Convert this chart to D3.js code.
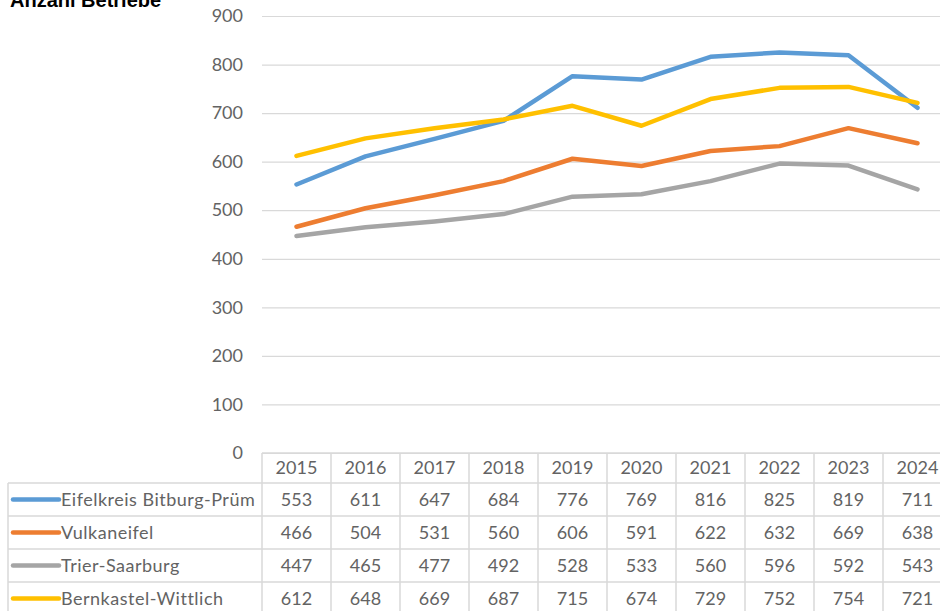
<!DOCTYPE html>
<html>
<head>
<meta charset="utf-8">
<script src="https://cdn.jsdelivr.net/npm/d3@7"></script>
<style>
  body { margin: 0; background: #fff; }
  svg { display: block; }
</style>
</head>
<body>
<script>
// data
var years = ["2015", "2016", "2017", "2018", "2019", "2020", "2021", "2022", "2023", "2024"];
var seriesNames = ["Eifelkreis Bitburg-Prüm", "Vulkaneifel", "Trier-Saarburg", "Bernkastel-Wittlich"];
var eifel = [553, 611, 647, 684, 776, 769, 816, 825, 819, 711];
var vulkan = [466, 504, 531, 560, 606, 591, 622, 632, 669, 638];
var trier = [447, 465, 477, 492, 528, 533, 560, 596, 592, 543];
var bernk = [612, 648, 669, 687, 715, 674, 729, 752, 754, 721];
var yTicks = [0, 100, 200, 300, 400, 500, 600, 700, 800, 900];
var colors = ["#5b9bd5", "#ed7d31", "#a5a5a5", "#ffc000"];

var series = [eifel, vulkan, trier, bernk].map(function(v, i) {
    return {name: seriesNames[i], values: v, color: colors[i]};
});

var W = 940, H = 611;
var plotLeft = 262, colW = 69;
var txtColor = "#636363";
var gridColor = "#d9d9d9";
var font = "Lato, 'Open Sans', sans-serif";

var svg = d3.select("body").append("svg")
    .attr("width", W)
    .attr("height", H);

var x = d3.scaleBand()
    .domain(years)
    .range([plotLeft, plotLeft + colW * years.length]);

var y = d3.scaleLinear()
    .domain([0, 900])
    .range([453, 16]);

// title (cut off at the top in the original)
svg.append("text")
    .attr("x", 10)
    .attr("y", 6.5)
    .attr("font-family", "'Liberation Sans', Arial, sans-serif")
    .attr("font-weight", "bold")
    .attr("font-size", 20)
    .attr("fill", "#000")
    .text("Anzahl Betriebe");

// y axis with gridlines
var yAxis = svg.append("g")
    .attr("transform", "translate(" + plotLeft + ",0)")
    .call(d3.axisLeft(y)
        .tickValues(yTicks)
        .tickSize(-(W - plotLeft))
        .tickPadding(19));

yAxis.select(".domain").remove();
yAxis.selectAll(".tick line")
    .attr("stroke", gridColor)
    .attr("stroke-width", 1.2);
yAxis.selectAll(".tick text")
    .attr("fill", txtColor)
    .attr("font-family", font)
    .attr("font-size", 18);

// lines
var line = d3.line()
    .x(function(d, i) { return x(years[i]) + x.bandwidth() / 2; })
    .y(function(d) { return y(d); });

svg.selectAll(".series").data(series)
    .enter().append("path")
    .attr("class", "series")
    .attr("d", function(s) { return line(s.values); })
    .attr("fill", "none")
    .attr("stroke", function(s) { return s.color; })
    .attr("stroke-width", 4.5)
    .attr("stroke-linejoin", "round")
    .attr("stroke-linecap", "round");

////////////////////////////////////////////////////////////////////////////////
// data table below the chart
var headTop = 453, headH = 30, rowH = 33;
var tableLeft = 8;
var tableRight = plotLeft + colW * years.length;
var rowTop = function(i) { return headTop + headH + i * rowH; };
var tableBottom = rowTop(series.length);

var grid = svg.append("g")
    .attr("stroke", gridColor)
    .attr("stroke-width", 1.5);

// header top
grid.append("line")
    .attr("x1", plotLeft).attr("x2", tableRight)
    .attr("y1", headTop).attr("y2", headTop);

// row lines
d3.range(series.length + 1).forEach(function(i) {
    grid.append("line")
        .attr("x1", tableLeft).attr("x2", tableRight)
        .attr("y1", rowTop(i)).attr("y2", rowTop(i));
});

// column lines
grid.append("line")
    .attr("x1", tableLeft).attr("x2", tableLeft)
    .attr("y1", rowTop(0)).attr("y2", tableBottom);
years.forEach(function(yr) {
    grid.append("line")
        .attr("x1", x(yr)).attr("x2", x(yr))
        .attr("y1", headTop).attr("y2", tableBottom);
});

// header years
svg.selectAll(".yr").data(years)
    .enter().append("text")
    .attr("class", "yr")
    .attr("x", function(d) { return x(d) + x.bandwidth() / 2; })
    .attr("y", headTop + headH / 2)
    .attr("dy", "0.35em")
    .attr("text-anchor", "middle")
    .attr("fill", txtColor)
    .attr("font-family", font)
    .attr("font-size", 18)
    .text(function(d) { return d; });

// rows
var row = svg.selectAll(".row").data(series)
    .enter().append("g")
    .attr("class", "row")
    .attr("transform", function(s, i) { return "translate(0," + (rowTop(i) + rowH / 2) + ")"; });

row.append("line")
    .attr("x1", 13).attr("x2", 59)
    .attr("y1", 0).attr("y2", 0)
    .attr("stroke", function(s) { return s.color; })
    .attr("stroke-width", 4.5)
    .attr("stroke-linecap", "round");

row.append("text")
    .attr("x", 61)
    .attr("dy", "0.35em")
    .attr("fill", txtColor)
    .attr("font-family", font)
    .attr("font-size", 18)
    .attr("letter-spacing", 0.5)
    .text(function(s) { return s.name; });

row.each(function(s) {
    d3.select(this).selectAll(".val").data(s.values)
        .enter().append("text")
        .attr("class", "val")
        .attr("x", function(d, i) { return x(years[i]) + x.bandwidth() / 2; })
        .attr("dy", "0.35em")
        .attr("text-anchor", "middle")
        .attr("fill", txtColor)
        .attr("font-family", font)
        .attr("font-size", 18)
        .text(function(d) { return d; });
});
</script>
</body>
</html>
